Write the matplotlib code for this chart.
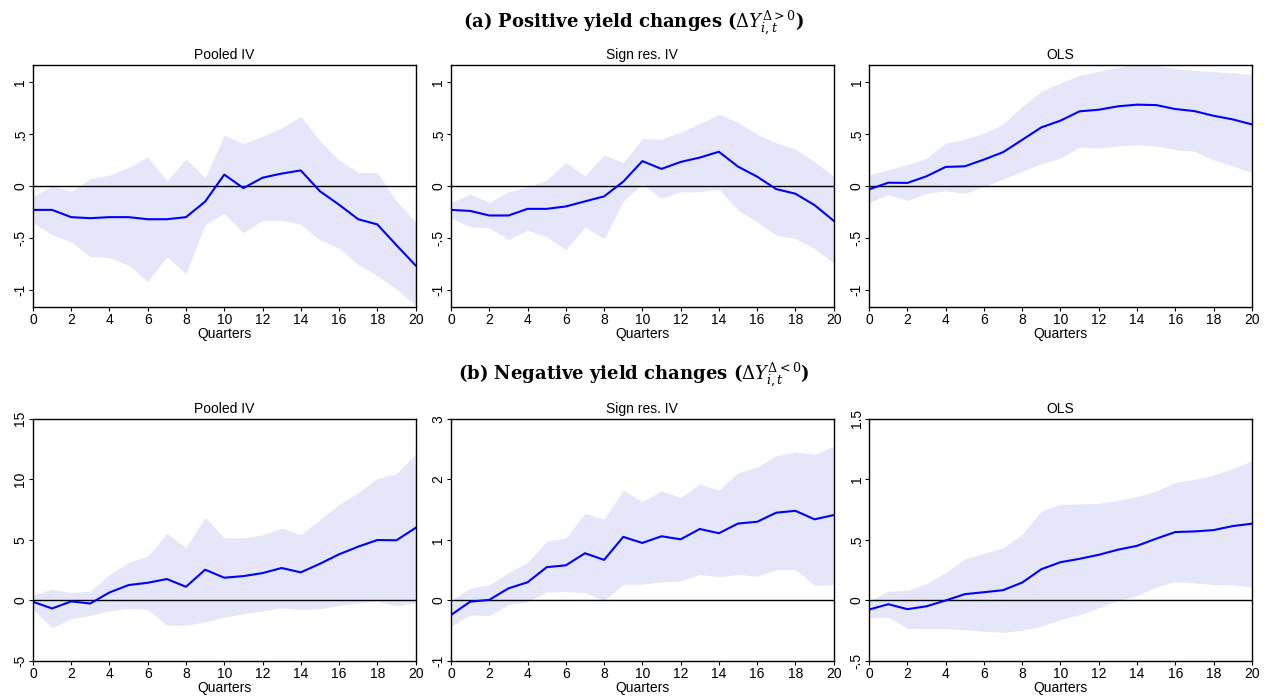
import matplotlib
matplotlib.use("Agg")
from matplotlib import pyplot as plt
import numpy as np

plt.rcParams["font.family"] = ["Liberation Sans", "DejaVu Sans"]
plt.rcParams["mathtext.fontset"] = "dejavuserif"

# Horizon (quarters)
quarters = np.arange(21)

# (a) Positive yield changes
pos_pooled_irf = [-0.23, -0.23, -0.30, -0.31, -0.30, -0.30, -0.32, -0.32, -0.30, -0.15, 0.11,
                  -0.02, 0.08, 0.12, 0.15, -0.05, -0.18, -0.32, -0.37, -0.57, -0.765]
pos_pooled_hi = [-0.10, 0.00, -0.05, 0.07, 0.105, 0.18, 0.28, 0.05, 0.26, 0.08, 0.49,
                 0.41, 0.48, 0.56, 0.67, 0.435, 0.25, 0.13, 0.13, -0.145, -0.345]
pos_pooled_lo = [-0.355, -0.47, -0.54, -0.68, -0.69, -0.765, -0.92, -0.68, -0.845, -0.37, -0.265,
                 -0.45, -0.33, -0.33, -0.37, -0.52, -0.60, -0.755, -0.865, -0.995, -1.15]

pos_sign_irf = [-0.23, -0.24, -0.284, -0.284, -0.22, -0.22, -0.197, -0.148, -0.10, 0.042, 0.24,
                0.165, 0.232, 0.274, 0.33, 0.187, 0.09, -0.03, -0.074, -0.184, -0.335]
pos_sign_hi = [-0.158, -0.077, -0.158, -0.055, -0.006, 0.058, 0.226, 0.097, 0.30, 0.226, 0.455,
               0.452, 0.52, 0.60, 0.69, 0.613, 0.497, 0.416, 0.355, 0.235, 0.09]
pos_sign_lo = [-0.306, -0.394, -0.403, -0.516, -0.426, -0.49, -0.613, -0.394, -0.506, -0.145, 0.02,
               -0.12, -0.055, -0.055, -0.03, -0.232, -0.345, -0.474, -0.506, -0.603, -0.74]

pos_ols_irf = [-0.032, 0.032, 0.03, 0.094, 0.184, 0.19, 0.255, 0.326, 0.445, 0.565, 0.63,
               0.72, 0.735, 0.768, 0.784, 0.78, 0.742, 0.722, 0.677, 0.642, 0.594]
pos_ols_hi = [0.11, 0.155, 0.206, 0.268, 0.413, 0.452, 0.506, 0.597, 0.768, 0.913, 0.994,
              1.065, 1.106, 1.145, 1.168, 1.165, 1.13, 1.113, 1.103, 1.09, 1.074]
pos_ols_lo = [-0.158, -0.084, -0.139, -0.071, -0.045, -0.071, -0.006, 0.068, 0.142, 0.216, 0.268,
              0.377, 0.365, 0.387, 0.397, 0.387, 0.352, 0.335, 0.252, 0.194, 0.129]

# (b) Negative yield changes
neg_pooled_irf = [-0.11, -0.66, -0.08, -0.25, 0.66, 1.27, 1.46, 1.77, 1.13, 2.54, 1.88,
                  2.01, 2.26, 2.68, 2.32, 3.03, 3.81, 4.44, 4.99, 4.97, 5.99]
neg_pooled_hi = [0.44, 0.94, 0.63, 0.77, 2.15, 3.12, 3.67, 5.54, 4.36, 6.84, 5.16,
                 5.16, 5.41, 5.96, 5.43, 6.70, 7.92, 8.91, 10.07, 10.48, 12.08]
neg_pooled_lo = [-0.74, -2.26, -1.49, -1.24, -0.83, -0.66, -0.74, -2.04, -2.04, -1.77, -1.38,
                 -1.10, -0.86, -0.61, -0.74, -0.69, -0.41, -0.19, -0.06, -0.47, -0.19]

neg_sign_irf = [-0.24, -0.02, 0.01, 0.20, 0.30, 0.55, 0.58, 0.78, 0.67, 1.05, 0.95,
                1.06, 1.01, 1.18, 1.11, 1.27, 1.30, 1.45, 1.48, 1.34, 1.41]
neg_sign_hi = [0.0, 0.20, 0.26, 0.46, 0.63, 0.98, 1.03, 1.44, 1.34, 1.82, 1.63,
               1.81, 1.70, 1.92, 1.82, 2.11, 2.20, 2.39, 2.45, 2.41, 2.55]
neg_sign_lo = [-0.42, -0.24, -0.25, -0.07, -0.02, 0.14, 0.15, 0.13, 0.00, 0.27, 0.27,
               0.31, 0.32, 0.43, 0.39, 0.43, 0.40, 0.51, 0.51, 0.25, 0.26]

neg_ols_irf = [-0.075, -0.031, -0.072, -0.048, 0.0, 0.052, 0.068, 0.085, 0.148, 0.258, 0.316,
               0.344, 0.377, 0.419, 0.451, 0.51, 0.565, 0.57, 0.581, 0.614, 0.634]
neg_ols_hi = [-0.006, 0.077, 0.085, 0.14, 0.228, 0.344, 0.388, 0.435, 0.545, 0.739, 0.794,
              0.797, 0.802, 0.827, 0.857, 0.904, 0.973, 1.0, 1.034, 1.089, 1.152]
neg_ols_lo = [-0.139, -0.139, -0.23, -0.232, -0.232, -0.241, -0.254, -0.263, -0.246, -0.213, -0.158,
              -0.117, -0.061, 0.0, 0.04, 0.112, 0.156, 0.145, 0.132, 0.132, 0.112]

panel_titles = ["Pooled IV", "Sign res. IV", "OLS"]

top_yticks = [-1, -0.5, 0, 0.5, 1]
top_ylabels = ["-1", "-.5", "0", ".5", "1"]
bottom_yticks = [[-5, 0, 5, 10, 15], [-1, 0, 1, 2, 3], [-0.5, 0, 0.5, 1, 1.5]]
bottom_ylabels = [["-5", "0", "5", "10", "15"], ["-1", "0", "1", "2", "3"],
                  ["-.5", "0", ".5", "1", "1.5"]]
bottom_ylims = [(-5, 15), (-1, 3), (-0.5, 1.5)]

top_series = [(pos_pooled_irf, pos_pooled_lo, pos_pooled_hi),
              (pos_sign_irf, pos_sign_lo, pos_sign_hi),
              (pos_ols_irf, pos_ols_lo, pos_ols_hi)]
bottom_series = [(neg_pooled_irf, neg_pooled_lo, neg_pooled_hi),
                 (neg_sign_irf, neg_sign_lo, neg_sign_hi),
                 (neg_ols_irf, neg_ols_lo, neg_ols_hi)]

fig = plt.figure(figsize=(12.67, 6.98), dpi=100)

lefts = [0.026, 0.356, 0.686]
width = 0.302
height = 0.347
row_bottoms = [0.560, 0.053]


def draw_panel(ax, irf, lo, hi, title):
    ax.fill_between(quarters, lo, hi, color="#E6E6FA", linewidth=0)
    ax.axhline(0, color="black", linewidth=1.0)
    ax.plot(quarters, irf, color="#0000FF", linewidth=1.5)
    ax.set_xlim(0, 20)
    ax.set_xticks(np.arange(0, 21, 2))
    ax.set_title(title, fontsize=10, pad=4)
    ax.set_xlabel("Quarters", fontsize=10, labelpad=0)
    ax.tick_params(axis="both", labelsize=10, length=3, pad=1)
    for s in ax.spines.values():
        s.set_linewidth(1.0)


for col in range(3):
    ax = fig.add_axes([lefts[col], row_bottoms[0], width, height])
    irf, lo, hi = top_series[col]
    draw_panel(ax, irf, lo, hi, panel_titles[col])
    ax.set_ylim(-1.167, 1.167)
    ax.set_yticks(top_yticks)
    ax.set_yticklabels(top_ylabels, rotation=90, va="center")

    ax = fig.add_axes([lefts[col], row_bottoms[1], width, height])
    irf, lo, hi = bottom_series[col]
    draw_panel(ax, irf, lo, hi, panel_titles[col])
    ax.set_ylim(*bottom_ylims[col])
    ax.set_yticks(bottom_yticks[col])
    ax.set_yticklabels(bottom_ylabels[col], rotation=90, va="center")

fig.text(0.5, 0.968, r"(a) Positive yield changes ($\Delta Y_{i,t}^{\Delta>0}$)",
         ha="center", va="center", fontsize=13, fontweight="bold",
         family=["DejaVu Serif"])
fig.text(0.5, 0.463, r"(b) Negative yield changes ($\Delta Y_{i,t}^{\Delta<0}$)",
         ha="center", va="center", fontsize=13, fontweight="bold",
         family=["DejaVu Serif"])

fig.savefig("out.png", dpi=100)
